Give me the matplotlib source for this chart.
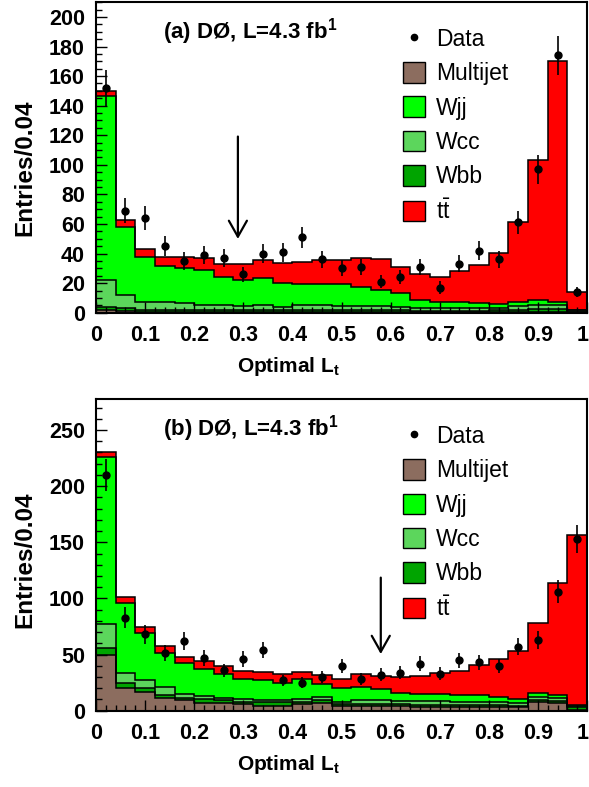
import numpy as np
import matplotlib
matplotlib.use("Agg")
import matplotlib.pyplot as plt
import matplotlib.transforms as mtransforms
from matplotlib.patches import Patch
from matplotlib.lines import Line2D
from matplotlib.ticker import MultipleLocator

plt.rcParams["font.family"] = ["Liberation Sans", "DejaVu Sans"]
plt.rcParams["mathtext.fontset"] = "custom"
plt.rcParams["mathtext.rm"] = "Liberation Sans"
plt.rcParams["mathtext.bf"] = "Liberation Sans:bold"

# 25 bins of width 0.04 on [0, 1]
edges = np.linspace(0.0, 1.0, 26)
centers = 0.5 * (edges[:-1] + edges[1:])

# ---- panel (a) ----
multijet_a = [1.5, 1, 0.5, 0.5, 0.5, 0.5, 0.5, 0.5, 0.5, 0.5, 0.5, 0.5, 0.5,
              0.5, 0.5, 0.5, 0.5, 0.5, 0.5, 0.5, 0.5, 0.5, 0.5, 0.5, 0.2]
wbb_a = [2.5, 2.5, 1.5, 1.5, 1.5, 1.3, 1.3, 1.3, 1.3, 1.0, 1.3, 1.0, 1.0,
         1.0, 1.0, 1.0, 0.7, 0.7, 0.7, 0.7, 1.0, 1.5, 2.0, 2.0, 0.6]
wcc_a = [18, 8.5, 5, 5.5, 4.3, 3.6, 3.6, 2.7, 3.6, 2.1, 3.6, 3.5, 3.0,
         3.0, 3.0, 2.5, 1.8, 1.8, 1.8, 1.8, 2.0, 2.5, 3.0, 2.5, 0.7]
wjj_a = [124.4, 45.9, 31, 24.4, 24, 23.6, 19, 17.7, 18.1, 16.3, 14, 14.4, 14.9,
         13.1, 10.9, 9.1, 5.8, 4.5, 4.0, 3.3, 2.4, 2.5, 3.1, 2.5, 0.3]
ttbar_a = [3.6, 4.5, 5.2, 6.1, 7.2, 8.1, 8.6, 10.8, 11.8, 13.5, 14.7, 15.9, 16.3,
           19.5, 20.8, 17.6, 17.4, 16.9, 21, 26, 34.3, 54.2, 94.9, 162.7, 12]
data_a = [152, 69, 64, 45, 35, 39, 37, 26, 40, 41, 51, 36, 30,
          31, 21, 24, 31, 17, 33, 42, 36, 61, 97, 174, 14]
err_a = [12.3, 8.3, 8.0, 6.7, 5.9, 6.2, 6.1, 5.1, 6.3, 6.4, 7.1, 6.0, 5.5,
         5.6, 4.6, 4.9, 5.6, 4.1, 5.7, 6.5, 6.0, 7.8, 9.8, 13.2, 3.7]

# ---- panel (b) ----
multijet_b = [49.7, 20.5, 17, 11.6, 9.6, 7.1, 6.6, 6, 4.2, 4.2, 6, 6.6, 4.2,
              4.2, 4.2, 4.5, 3.5, 3.5, 3.5, 3.5, 3, 3, 8, 7, 1]
wbb_b = [6, 3.9, 3, 2.4, 2, 3.3, 3, 2, 3.8, 3.2, 2, 3, 1.8,
         1.8, 1.8, 1.5, 2, 2, 2, 2, 2, 1.5, 1.5, 2, 2]
wcc_b = [21.4, 9, 7.4, 6.9, 3, 3, 2, 2.2, 1.6, 2.2, 2.4, 2.4, 2,
         3.6, 3.5, 3, 3, 3, 2.5, 2.5, 2.5, 2.5, 2.5, 2, 1]
wjj_b = [148.8, 62.5, 41.7, 30.3, 27.7, 23.5, 20.9, 17.8, 17.8, 14.8, 17.6, 11.6, 12,
         11.3, 9.6, 6.5, 6.1, 6.1, 6, 6, 5, 3.7, 4.1, 3, 1]
ttbar_b = [4.5, 5, 5, 6.6, 5.9, 7.8, 7.4, 7.4, 7.4, 8.4, 6.3, 8.5, 8.6,
           11.8, 11.9, 14.3, 16.2, 18.7, 21.5, 26.6, 33.6, 42.7, 61.9, 100, 151.3]
data_b = [210, 83, 68, 51, 62, 47, 36, 46, 54, 27, 25, 30, 40,
          28, 32, 34, 42, 33, 45, 43, 40, 57, 63, 106, 153]
err_b = [14.5, 9.1, 8.2, 7.1, 7.9, 6.9, 6.0, 6.8, 7.3, 5.2, 5.0, 5.5, 6.3,
         5.3, 5.7, 5.8, 6.5, 5.7, 6.7, 6.6, 6.3, 7.5, 7.9, 10.3, 12.4]

LABELS = ["Multijet", "Wbb", "Wcc", "Wjj", r"$\mathrm{t\bar{t}}$"]
COLORS = ["#8c6d5f", "#00a400", "#5cd65c", "#00ff00", "#ff0000"]
XTICK_LABELS = ["0", "0.1", "0.2", "0.3", "0.4", "0.5", "0.6", "0.7",
                "0.8", "0.9", "1"]

W, H = 589, 787
fig = plt.figure(figsize=(W / 100, H / 100), dpi=100)


def draw_panel(rect, comps, data, err, ymax, major, minor, tag, arrow_x, ylab_y):
    ax = fig.add_axes(rect)
    cum = np.cumsum(np.array(comps, dtype=float), axis=0)
    # ROOT-style stack: each cumulative histogram drawn from zero, top first
    for level in range(len(comps) - 1, -1, -1):
        ax.stairs(cum[level], edges, baseline=0, fill=True,
                  color=COLORS[level], lw=0)
    for level in range(len(comps)):
        ax.stairs(cum[level], edges, baseline=None, color="black", lw=1.1)

    ax.errorbar(centers, data, yerr=err, fmt="o", color="black", ms=5,
                elinewidth=1.2, capsize=0, zorder=5)

    ax.annotate("", xy=(arrow_x, 48), xytext=(arrow_x, 121),
                arrowprops=dict(arrowstyle="->,head_length=1.15,head_width=0.65",
                                lw=1.6, color="black"))

    ax.set_xlim(0, 1)
    ax.set_ylim(0, ymax)
    ax.xaxis.set_minor_locator(MultipleLocator(0.02))
    ax.yaxis.set_major_locator(MultipleLocator(major))
    ax.yaxis.set_minor_locator(MultipleLocator(minor))
    ax.set_xticks(np.arange(0, 1.01, 0.1))
    ax.set_xticklabels(XTICK_LABELS)
    ax.tick_params(which="both", direction="in", top=False, right=False,
                   width=1.0)
    ax.tick_params(which="major", length=8, labelsize=15.5)
    ax.tick_params(axis="y", which="major", pad=8)
    ax.tick_params(axis="x", which="major", pad=9)
    ax.tick_params(which="minor", length=4)
    for lab in ax.get_xticklabels() + ax.get_yticklabels():
        lab.set_fontweight("bold")
    # nudge the last x label so it stays inside the canvas
    last = ax.get_xticklabels()[-1]
    last.set_transform(last.get_transform() +
                       mtransforms.ScaledTranslation(-4 / 100, 0, fig.dpi_scale_trans))
    for sp in ax.spines.values():
        sp.set_linewidth(1.5)

    ax.text(-0.145, ylab_y, "Entries/0.04", transform=ax.transAxes, rotation=90,
            ha="center", va="center", fontsize=17.5, fontweight="bold")
    ax.text(0.497, -0.172, r"Optimal L$_{\mathbf{t}}$", transform=ax.transAxes,
            ha="right", va="center", fontsize=15, fontweight="bold")
    ax.text(0.137, 0.905, tag + r", L=4.3 fb$^{\mathbf{1}}$",
            transform=ax.transAxes, ha="left", va="center", fontsize=16,
            fontweight="bold")

    handles = [Line2D([], [], marker="o", ls="none", color="black", ms=4.5)]
    order = [0, 3, 2, 1, 4]
    for i in order:
        handles.append(Patch(facecolor=COLORS[i], edgecolor="black", lw=1.0))
    labels = ["Data"] + [LABELS[i] for i in order]
    ax.legend(handles, labels, loc="upper left", bbox_to_anchor=(0.625, 0.917),
              frameon=False, fontsize=16.5, handlelength=0.96,
              handleheight=1.0, handletextpad=0.48, labelspacing=0.49,
              borderpad=0, borderaxespad=0)
    return ax


comps_a = [multijet_a, wbb_a, wcc_a, wjj_a, ttbar_a]
comps_b = [multijet_b, wbb_b, wcc_b, wjj_b, ttbar_b]

draw_panel([96 / W, 1 - 312.7 / H, 491 / W, 310.7 / H], comps_a, data_a, err_a,
           210.1, 20, 5, "(a) DØ", 0.289, 0.467)
draw_panel([96 / W, 1 - 710.7 / H, 491 / W, 311.7 / H], comps_b, data_b, err_b,
           277.6, 50, 10, "(b) DØ", 0.58, 0.483)

fig.savefig("out.png", dpi=100)
